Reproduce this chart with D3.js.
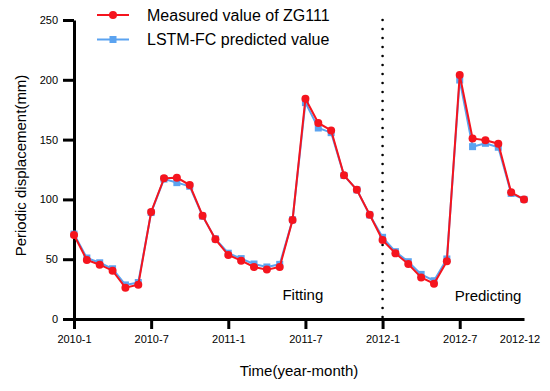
<!DOCTYPE html>
<html>
<head>
<meta charset="utf-8">
<script src="https://cdn.jsdelivr.net/npm/d3@7"></script>
<style>
  body { margin: 0; background: #fff; }
  svg { font-family: "Liberation Sans", Arial, sans-serif; }
</style>
</head>
<body>
<svg id="chart" width="550" height="391"></svg>
<script>
// months 2010-1 .. 2012-12
const months = d3.range(36).map(i => (2010 + Math.floor(i / 12)) + "-" + (i % 12 + 1));

const measured = [70.2, 49.3, 45.4, 40.4, 26.2, 28.7, 89.5, 117.6, 118.2, 112, 86.4, 66.6,
  53.5, 48.8, 43.5, 41.3, 43.5, 82.8, 184.2, 163.9, 157.7, 120.1, 108.1, 87.2,
  66, 54.9, 46, 34.8, 29.5, 48.2, 204, 151, 149.4, 146.6, 105.9, 100];

const predicted = [71, 51, 47, 42, 28.5, 30.5, 89, 117, 114, 111, 86, 67,
  55, 50.5, 46, 43.5, 45.7, 83, 180.9, 159.7, 155.8, 120, 108, 87,
  68.3, 56.3, 47.9, 37.3, 32, 50.2, 199.8, 144.1, 146.9, 143.6, 105, 100];

const xTickIdx = [0, 6, 12, 18, 24, 30];
const yTicks = [0, 50, 100, 150, 200, 250];
const splitIdx = 24;

const red = "#f5141e", blue = "#5ba3f0";

const svg = d3.select("#chart");
const margin = {left: 74, right: 26, top: 20, bottom: 72};
const width = 550, height = 391;

const x = d3.scaleLinear()
    .domain([0, 35])
    .range([margin.left, width - margin.right]);
const y = d3.scaleLinear()
    .domain([0, 250])
    .range([height - margin.bottom, margin.top]);

// x axis
const xAxis = svg.append("g")
    .attr("transform", "translate(0," + y(0) + ")")
    .call(d3.axisBottom(x).tickValues(xTickIdx).tickFormat(i => months[i]).tickSize(10).tickSizeOuter(0).tickPadding(6));
xAxis.select(".domain").attr("stroke-width", 3);
xAxis.selectAll(".tick line").attr("stroke-width", 3);
xAxis.selectAll("text").attr("font-size", 11).attr("fill", "#000")
    .attr("font-family", "Liberation Sans, Arial, sans-serif");
// last label without tick
xAxis.append("text")
    .attr("x", x(35) - 4).attr("y", 16).attr("dy", "0.71em")
    .attr("text-anchor", "middle")
    .attr("font-size", 11).attr("fill", "#000")
    .text(months[35]);

// y axis
const yAxis = svg.append("g")
    .attr("transform", "translate(" + x(0) + ",0)")
    .call(d3.axisLeft(y).tickValues(yTicks).tickSize(11).tickSizeOuter(0).tickPadding(5));
yAxis.select(".domain").attr("stroke-width", 3);
yAxis.selectAll(".tick line").attr("stroke-width", 3);
yAxis.selectAll("text").attr("font-size", 11).attr("fill", "#000")
    .attr("font-family", "Liberation Sans, Arial, sans-serif");

// axis titles
svg.append("text")
    .attr("x", (x(0) + x(35)) / 2).attr("y", 376)
    .attr("text-anchor", "middle").attr("font-size", 15)
    .text("Time(year-month)");
svg.append("text")
    .attr("transform", "translate(26," + (y(125) - 4) + ") rotate(-90)")
    .attr("text-anchor", "middle").attr("font-size", 15)
    .text("Periodic displacement(mm)");

// split line
svg.append("line")
    .attr("x1", x(splitIdx)).attr("x2", x(splitIdx))
    .attr("y1", y(250)).attr("y2", y(0))
    .attr("stroke", "#000").attr("stroke-width", 2.6)
    .attr("stroke-linecap", "round")
    .attr("stroke-dasharray", "0,9");

svg.append("text").attr("x", x(17.8)).attr("y", 300)
    .attr("text-anchor", "middle").attr("font-size", 15).text("Fitting");
svg.append("text").attr("x", x(32.2)).attr("y", 301)
    .attr("text-anchor", "middle").attr("font-size", 15).text("Predicting");

const line = d3.line().x((d, i) => x(i)).y(d => y(d));

// predicted (blue, drawn under)
svg.append("path").datum(predicted)
    .attr("d", line).attr("fill", "none")
    .attr("stroke", blue).attr("stroke-width", 2);
svg.append("g").selectAll("rect").data(predicted).join("rect")
    .attr("x", (d, i) => x(i) - 3.5).attr("y", d => y(d) - 3.5)
    .attr("width", 7).attr("height", 7).attr("fill", blue);

// measured (red)
svg.append("path").datum(measured)
    .attr("d", line).attr("fill", "none")
    .attr("stroke", red).attr("stroke-width", 2);
svg.append("g").selectAll("circle").data(measured).join("circle")
    .attr("cx", (d, i) => x(i)).attr("cy", d => y(d))
    .attr("r", 4).attr("fill", red);

// legend
const legend = [
  {label: "Measured value of ZG111", color: red, shape: "circle"},
  {label: "LSTM-FC predicted value", color: blue, shape: "square"}
];
const lg = svg.append("g").selectAll("g").data(legend).join("g")
    .attr("transform", (d, i) => "translate(97," + (15 + i * 24.5) + ")");
lg.append("line").attr("x1", 0).attr("x2", 32)
    .attr("stroke", d => d.color).attr("stroke-width", 2);
lg.filter(d => d.shape === "circle").append("circle")
    .attr("cx", 16).attr("r", 4).attr("fill", d => d.color);
lg.filter(d => d.shape === "square").append("rect")
    .attr("x", 12.5).attr("y", -3.5).attr("width", 7).attr("height", 7).attr("fill", d => d.color);
lg.append("text").attr("x", 50).attr("dy", "0.35em")
    .attr("font-size", 16).text(d => d.label);
</script>
</body>
</html>
